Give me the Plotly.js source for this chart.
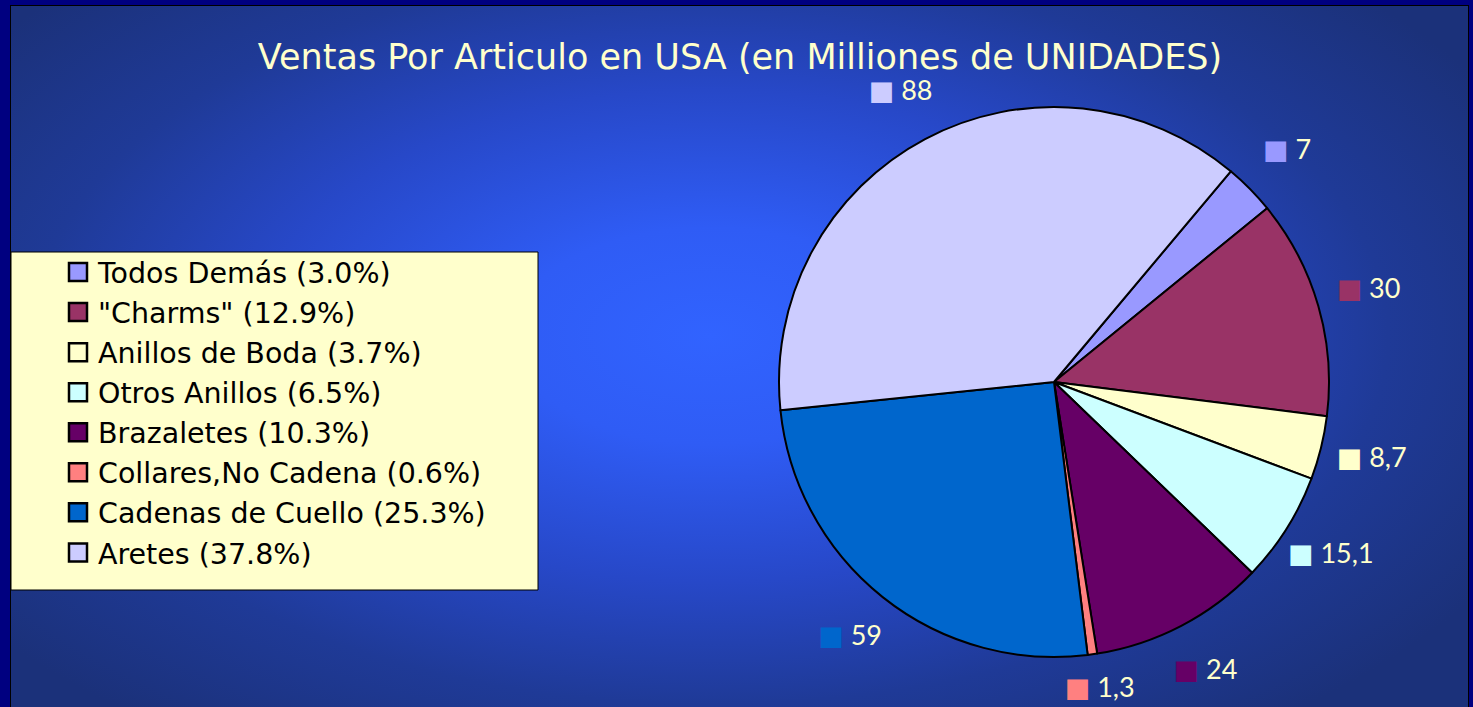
<!DOCTYPE html>
<html>
<head>
<meta charset="utf-8">
<script src="https://cdn.plot.ly/plotly-3.0.1.min.js"></script>
<style>
  html, body { margin: 0; padding: 0; background: #000080; }
  #frame { position: absolute; left: 0; top: 0; width: 1473px; height: 707px; background: #000080; }
  #inner { position: absolute; left: 10px; top: 5px; width: 1457px; height: 702px; border: 1px solid #000; border-bottom: none;
    background: radial-gradient(ellipse 62% 70% at 48% 47%, #3163ff 0%, #2f5cf5 22%, #2748c8 50%, #1f3a97 75%, #1b317a 100%); }
  #chart { position: absolute; left: 0; top: 0; width: 1473px; height: 707px; }
</style>
</head>
<body>
<div id="frame"><div id="inner"></div></div>
<div id="chart"></div>
<script>
const categories = ["Todos Demás", "\"Charms\"", "Anillos de Boda", "Otros Anillos", "Brazaletes", "Collares,No Cadena", "Cadenas de Cuello", "Aretes"];
const values = [7, 30, 8.7, 15.1, 24, 1.3, 59, 88];
const colors = ["#9999ff", "#993366", "#ffffcc", "#ccffff", "#660066", "#ff8080", "#0066cc", "#ccccff"];
const titleText = "Ventas Por Articulo en USA (en Milliones de UNIDADES)";

const total = values.reduce((a, b) => a + b, 0);
const legendLabels = categories.map((c, i) => c + " (" + (values[i] / total * 100).toFixed(1) + "%)");

const W = 1473, H = 707;
const cx = 1054, cy = 382, r = 275;
const rotation = 40;
const labelR = r * 1.19;
const labelMaxY = H - 17;   // keep labels inside the chart area

// label anchor = middle of each slice's angle, pushed out past the rim
const labelX = [], labelY = [], labelText = [];
let cum = 0;
values.forEach((v, i) => {
  const mid = (rotation + (cum + v / 2) / total * 360) * Math.PI / 180;
  cum += v;
  labelX.push(cx + labelR * Math.sin(mid));
  labelY.push(Math.min(cy - labelR * Math.cos(mid), labelMaxY));
  labelText.push('<span style="color:' + colors[i] + '">■</span> ' + String(v).replace('.', ','));
});

const pie = {
  type: "pie",
  labels: legendLabels,
  values: values,
  sort: false,
  direction: "clockwise",
  rotation: rotation,
  marker: { colors: colors, line: { color: "#000000", width: 2 } },
  textinfo: "none",
  hoverinfo: "label+value",
  domain: { x: [(cx - r) / W, (cx + r) / W], y: [1 - (cy + r) / H, 1 - (cy - r) / H] },
  showlegend: true
};

const labels = {
  type: "scatter",
  mode: "text",
  x: labelX,
  y: labelY,
  text: labelText,
  textposition: "middle center",
  textfont: { color: "#ffffcc", size: 27, family: "Lato, 'DejaVu Sans', sans-serif" },
  cliponaxis: false,
  hoverinfo: "skip",
  showlegend: false
};

const layout = {
  width: W, height: H,
  margin: { l: 0, r: 0, t: 0, b: 0 },
  paper_bgcolor: "rgba(0,0,0,0)",
  plot_bgcolor: "rgba(0,0,0,0)",
  font: { family: "'DejaVu Sans', sans-serif" },
  xaxis: { range: [0, W], visible: false, fixedrange: true },
  yaxis: { range: [H, 0], visible: false, fixedrange: true },
  title: {
    text: titleText,
    font: { color: "#ffffcc", size: 35, family: "'DejaVu Sans', sans-serif" },
    x: 740 / W, xanchor: "center",
    y: 1 - 57 / H, yanchor: "middle"
  },
  legend: {
    x: 58 / W, xanchor: "left",
    y: 1 - 247 / H, yanchor: "top",
    bgcolor: "rgba(0,0,0,0)",
    borderwidth: 0,
    font: { color: "#000000", size: 28.5, family: "'DejaVu Sans', sans-serif" },
    traceorder: "normal"
  },
  shapes: [{
    type: "rect", xref: "paper", yref: "paper", layer: "below",
    x0: 11 / W, x1: 538 / W, y0: 1 - 590 / H, y1: 1 - 252 / H,
    fillcolor: "#ffffcc", line: { color: "#000000", width: 1 }
  }]
};

Plotly.newPlot("chart", [pie, labels], layout, { displayModeBar: false, staticPlot: true }).then(() => {
  document.querySelectorAll(".legendpie").forEach(p => {
    p.setAttribute("d", "M9,9H-9V-9H9Z");
    p.style.strokeWidth = "2.5px";
  });
});
</script>
</body>
</html>
